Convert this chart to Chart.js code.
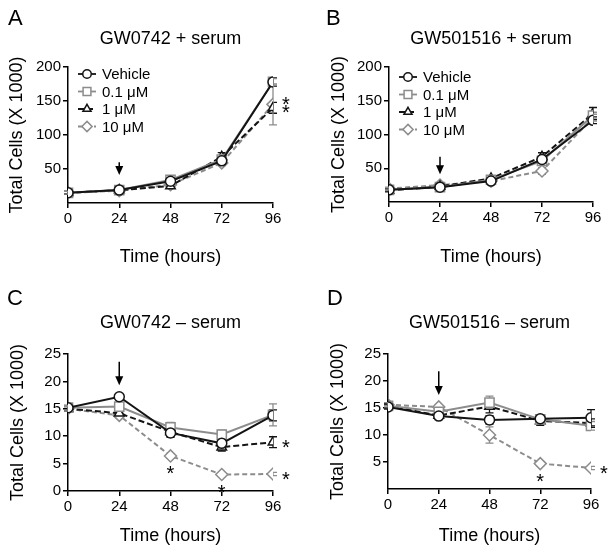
<!DOCTYPE html>
<html>
<head>
<meta charset="utf-8">
<script src="https://cdn.jsdelivr.net/npm/chart.js@4.4.1/dist/chart.umd.min.js"></script>
<style>
	body { margin: 0; background: #fff; overflow: hidden; }
	#wrap { position: relative; width: 612px; height: 559px; }
	canvas { position: absolute; }
</style>
</head>
<body>
<div id="wrap">
	<canvas id="chartA" width="306" height="280" style="left:0;top:0"></canvas>
	<canvas id="chartB" width="306" height="280" style="left:306px;top:0"></canvas>
	<canvas id="chartC" width="306" height="279" style="left:0;top:280px"></canvas>
	<canvas id="chartD" width="306" height="279" style="left:306px;top:280px"></canvas>
</div>
<script>
var hours = [0, 24, 48, 72, 96],
	 seriesNames = ["Vehicle", "0.1 μM", "1 μM", "10 μM"];

// A: GW0742 + serum
var vehicleA = [15, 19, 32, 62, 178],
	 vehicleErrA = [2, 2, 3, 5, 6],
	 lowA = [15, 19, 34, 64, 178],
	 lowErrA = [2, 2, 3, 4, 5],
	 midA = [15, 19, 25, 68, 140],
	 midErrA = [2, 2, 3, 6, 8],
	 highA = [15, 18, 27, 59, 145],
	 highErrA = [2, 2, 3, 4, 30];

// B: GW501516 + serum
var vehicleB = [18, 22, 31, 63, 121],
	 vehicleErrB = [2, 2, 3, 4, 5],
	 lowB = [18, 22, 33, 61, 128],
	 lowErrB = [2, 2, 3, 4, 5],
	 midB = [17, 23, 35, 67, 131],
	 midErrB = [2, 2, 3, 6, 9],
	 highB = [20, 25, 31, 46, 125],
	 highErrB = [2, 2, 3, 5, 5];

// C: GW0742 - serum
var vehicleC = [15.2, 17.2, 10.6, 8.7, 13.8],
	 vehicleErrC = [0.4, 0.4, 0.8, 0.6, 1.0],
	 lowC = [15.2, 15.4, 11.6, 10.3, 13.9],
	 lowErrC = [0.4, 0.6, 0.9, 0.8, 2.0],
	 midC = [15.0, 14.2, 10.8, 8.0, 8.9],
	 midErrC = [0.4, 0.6, 0.8, 0.7, 1.0],
	 highC = [15.0, 13.8, 6.4, 3.0, 3.1],
	 highErrC = [0.4, 0.5, 0.4, 0.3, 0.3];

// D: GW501516 - serum
var vehicleD = [15.2, 13.5, 12.8, 13.0, 13.2],
	 vehicleErrD = [0.4, 0.6, 0.8, 0.6, 1.5],
	 lowD = [15.4, 14.3, 16.0, 12.9, 11.7],
	 lowErrD = [0.4, 0.6, 1.2, 0.8, 0.8],
	 midD = [15.4, 13.6, 15.3, 12.6, 12.2],
	 midErrD = [0.4, 0.6, 1.2, 0.8, 0.8],
	 highD = [15.6, 15.2, 10.0, 4.7, 3.9],
	 highErrD = [0.4, 0.4, 1.5, 0.4, 0.3];

// annotations: [hour, value, side]
var starsA = [[96, 153, "right"], [96, 141, "right"]],
	 starsB = [],
	 starsC = [[48, 6.4, "below"], [72, 3.0, "below"], [96, 8.9, "right"], [96, 3.1, "right"]],
	 starsD = [[72, 4.7, "below"], [96, 3.9, "right"]];
// arrow: [hour, from value, to value]
var arrowA = [24, 60, 41],
	 arrowB = [24, 67, 41],
	 arrowC = [24, 23.6, 19.3],
	 arrowD = [24, 21.8, 17.4];

var dark = "#141414",
	 grey = "#8c8c8c",
	 font = "'Liberation Sans', Arial, sans-serif";

var errorBars = {
	id: "errorBars",
	beforeDatasetsDraw: function(chart) {
		var ctx = chart.ctx,
			 yScale = chart.scales.y;
		chart.data.datasets.forEach(function(ds, di) {
			var meta = chart.getDatasetMeta(di);
			ctx.save();
			ctx.strokeStyle = ds.borderColor;
			ctx.lineWidth = 1.3;
			meta.data.forEach(function(pt, i) {
				var e = ds.errors[i],
					 top = yScale.getPixelForValue(ds.data[i] + e),
					 bot = yScale.getPixelForValue(ds.data[i] - e);
				ctx.beginPath();
				ctx.moveTo(pt.x, top); ctx.lineTo(pt.x, bot);
				ctx.moveTo(pt.x - 4, top); ctx.lineTo(pt.x + 4, top);
				ctx.moveTo(pt.x - 4, bot); ctx.lineTo(pt.x + 4, bot);
				ctx.stroke();
			});
			ctx.restore();
		});
	}
};

var panelDecor = {
	id: "panelDecor",
	afterDraw: function(chart, args, opts) {
		var ctx = chart.ctx,
			 area = chart.chartArea,
			 xs = chart.scales.x,
			 ys = chart.scales.y;
		ctx.save();
		ctx.fillStyle = "#000";
		ctx.font = "22px " + font;
		ctx.textAlign = "left";
		ctx.textBaseline = "alphabetic";
		ctx.fillText(opts.letter, opts.letterX, opts.letterY);
		ctx.font = "18px " + font;
		ctx.textAlign = "center";
		ctx.fillText(opts.title, (area.left + area.right) / 2, opts.titleY);

		// arrow
		var ax = xs.getPixelForValue(opts.arrow[0]),
			 a1 = ys.getPixelForValue(opts.arrow[1]),
			 a2 = ys.getPixelForValue(opts.arrow[2]);
		ctx.strokeStyle = "#000";
		ctx.lineWidth = 1.5;
		ctx.beginPath();
		ctx.moveTo(ax, a1); ctx.lineTo(ax, a2 - 6);
		ctx.stroke();
		ctx.beginPath();
		ctx.moveTo(ax - 4, a2 - 9); ctx.lineTo(ax + 4, a2 - 9); ctx.lineTo(ax, a2);
		ctx.closePath();
		ctx.fill();

		// stars
		ctx.font = "20px " + font;
		ctx.textBaseline = "alphabetic";
		opts.stars.forEach(function(s) {
			var sx = xs.getPixelForValue(s[0]),
				 sy = ys.getPixelForValue(s[1]);
			if (s[2] == "right") {
				ctx.fillText("*", sx + 13, sy + 12);
			} else {
				ctx.fillText("*", sx, sy + 24);
			}
		});

		// legend
		if (opts.legend) {
			ctx.font = "15px " + font;
			ctx.textAlign = "left";
			ctx.textBaseline = "middle";
			chart.data.datasets.forEach(function(ds, i) {
				var ly = opts.legendY + i * 17.5,
					 lx = area.left + 19;
				ctx.strokeStyle = ds.borderColor;
				ctx.lineWidth = 1.8;
				ctx.setLineDash(ds.borderDash || []);
				ctx.beginPath();
				ctx.moveTo(lx - 9, ly); ctx.lineTo(lx + 9, ly);
				ctx.stroke();
				ctx.setLineDash([]);
				ctx.fillStyle = "#fff";
				ctx.lineWidth = 1.5;
				Chart.helpers.drawPoint(ctx, {
					pointStyle: ds.pointStyle,
					radius: ds.pointRadius * 0.85,
					rotation: 0,
					borderWidth: 1.5
				}, lx, ly);
				ctx.fillStyle = "#000";
				ctx.fillText(ds.label, lx + 15, ly + 1);
			});
		}
		ctx.restore();
	}
};

function makeSeries(vals, errs) {
	var styles = [
		{ color: dark, dash: [], point: "circle", r: 5 },
		{ color: grey, dash: [], point: "rect", r: 6.5 },
		{ color: dark, dash: [6, 3], point: "triangle", r: 5.5 },
		{ color: grey, dash: [5, 3], point: "rectRot", r: 6 }
	];
	return vals.map(function(v, i) {
		return {
			label: seriesNames[i],
			data: v,
			errors: errs[i],
			borderColor: styles[i].color,
			borderDash: styles[i].dash,
			borderWidth: 2,
			pointStyle: styles[i].point,
			pointRadius: styles[i].r,
			pointBorderWidth: 1.5,
			pointBackgroundColor: "#fff",
			pointBorderColor: styles[i].color,
			tension: 0,
			fill: false
		};
	});
}

function makeChart(id, series, box, deco) {
	var canvas = document.getElementById(id);
	return new Chart(canvas.getContext("2d"), {
		type: "line",
		data: {
			labels: hours,
			datasets: series
		},
		options: {
			responsive: false,
			animation: false,
			layout: { padding: { top: box.top, right: canvas.width - box.right, left: 0, bottom: 0 } },
			plugins: {
				legend: { display: false },
				tooltip: { enabled: false },
				panelDecor: deco
			},
			scales: {
				x: {
					type: "linear",
					min: 0,
					max: 96,
					afterFit: function(s) { s.height = canvas.height - box.bottom; },
					ticks: { stepSize: 24, color: "#000", padding: 2, font: { family: font, size: 15 } },
					grid: { drawOnChartArea: false, drawTicks: true, tickLength: 5, color: "#000", lineWidth: 1.5 },
					border: { color: "#000", width: 1.5 },
					title: { display: true, text: "Time (hours)", color: "#000", padding: { top: 0, bottom: 12 }, font: { family: font, size: 18 } }
				},
				y: {
					min: 0,
					max: box.ymax,
					afterFit: function(s) { s.width = box.left; },
					ticks: {
						stepSize: box.step,
						color: "#000",
						padding: 2,
						font: { family: font, size: 15 },
						callback: function(v) { return (v === 0 && !box.zero) ? "" : v; }
					},
					grid: {
						drawOnChartArea: false,
						drawTicks: true,
						tickLength: 5,
						lineWidth: 1.5,
						color: function(c) { return (c.tick && c.tick.value === 0 && !box.zero) ? "rgba(0,0,0,0)" : "#000"; }
					},
					border: { color: "#000", width: 1.5 },
					title: { display: true, text: "Total Cells (X 1000)", color: "#000", padding: { top: box.ytitle, bottom: 0 }, font: { family: font, size: 18 } }
				}
			}
		},
		plugins: [errorBars, panelDecor]
	});
}

makeChart("chartA",
	makeSeries([vehicleA, lowA, midA, highA], [vehicleErrA, lowErrA, midErrA, highErrA]),
	{ left: 68, right: 273, top: 67, bottom: 203, ymax: 200, step: 50, zero: false, ytitle: 6 },
	{ letter: "A", letterX: 8, letterY: 25, title: "GW0742 + serum", titleY: 44, arrow: arrowA, stars: starsA, legend: true, legendY: 74 });

makeChart("chartB",
	makeSeries([vehicleB, lowB, midB, highB], [vehicleErrB, lowErrB, midErrB, highErrB]),
	{ left: 83, right: 287, top: 67, bottom: 202, ymax: 200, step: 50, zero: false, ytitle: 22 },
	{ letter: "B", letterX: 20, letterY: 25, title: "GW501516 + serum", titleY: 44, arrow: arrowB, stars: starsB, legend: true, legendY: 77 });

makeChart("chartC",
	makeSeries([vehicleC, lowC, midC, highC], [vehicleErrC, lowErrC, midErrC, highErrC]),
	{ left: 68, right: 273, top: 74, bottom: 211, ymax: 25, step: 5, zero: true, ytitle: 7 },
	{ letter: "C", letterX: 7, letterY: 25, title: "GW0742 – serum", titleY: 48, arrow: arrowC, stars: starsC, legend: false });

makeChart("chartD",
	makeSeries([vehicleD, lowD, midD, highD], [vehicleErrD, lowErrD, midErrD, highErrD]),
	{ left: 82, right: 285, top: 74, bottom: 209, ymax: 25, step: 5, zero: false, ytitle: 21 },
	{ letter: "D", letterX: 21, letterY: 25, title: "GW501516 – serum", titleY: 48, arrow: arrowD, stars: starsD, legend: false });
</script>
</body>
</html>
